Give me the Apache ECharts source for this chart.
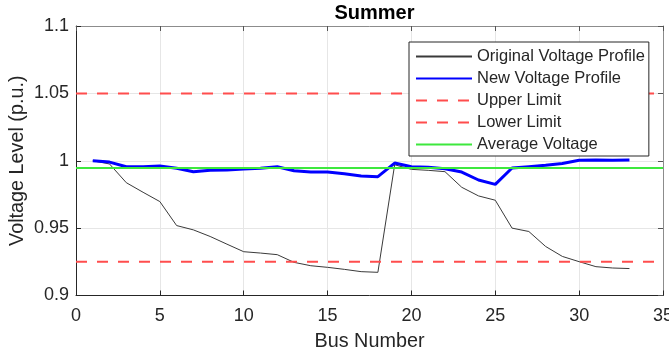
<!DOCTYPE html>
<html>
<head>
<meta charset="utf-8">
<script src="https://cdn.jsdelivr.net/npm/echarts@6/dist/echarts.min.js"></script>
<style>
html,body{margin:0;padding:0;background:#fff;}
#chart{width:669px;height:353px;}
</style>
</head>
<body>
<div id="chart"></div>
<script>
const titleText = 'Summer';
const xAxisName = 'Bus Number';
const yAxisName = 'Voltage Level (p.u.)';
const buses = [1,2,3,4,5,6,7,8,9,10,11,12,13,14,15,16,17,18,19,20,21,22,23,24,25,26,27,28,29,30,31,32,33];
const originalVoltage = [1.000,0.9976,0.9837,0.9766,0.9697,0.9519,0.9487,0.9438,0.9381,0.9325,0.9315,0.9303,0.9246,0.9221,0.9209,0.9194,0.9177,0.9172,0.9970,0.9936,0.9929,0.9919,0.9803,0.9739,0.9707,0.9500,0.9475,0.9364,0.9290,0.9251,0.9214,0.9204,0.9200];
const newVoltage = [1.000,0.9990,0.9956,0.9956,0.9961,0.9944,0.9919,0.9929,0.9931,0.9938,0.9944,0.9956,0.9926,0.9916,0.9916,0.9904,0.9887,0.9882,0.9983,0.9956,0.9951,0.9940,0.9916,0.9857,0.9825,0.9946,0.9956,0.9966,0.9980,1.0003,1.0005,1.0003,1.0005];
const upperLimit = 1.05;
const lowerLimit = 0.925;
const averageVoltage = 0.9946;
const xRange = [0, 35];
const yTickLabels = ['0.9','0.95','1','1.05','1.1'];
const seriesNames = ['Original Voltage Profile','New Voltage Profile','Upper Limit','Lower Limit','Average Voltage'];

const font = 'Liberation Sans, Arial, Helvetica, sans-serif';
const txt = '#262626';
const chart = echarts.init(document.getElementById('chart'), null, {renderer:'canvas'});

function pairs(xs, ys){ return xs.map((x,i)=>[x, ys[i]]); }
function hline(v){ return [[xRange[0], v],[xRange[1], v]]; }

const option = {
  animation: false,
  backgroundColor: '#fff',
  title: {
    text: titleText, left: 369.5, top: -2, textAlign: 'center',
    textStyle: {fontFamily: font, fontSize: 20, fontWeight: 'bold', color: '#000'}
  },
  grid: {left: 76, right: 6, top: 26, bottom: 57.5, containLabel: false, outerBoundsMode: 'none'},
  legend: {
    orient: 'vertical', left: 409, top: 42,
    itemWidth: 56, itemHeight: 14, itemGap: 5,
    padding: [6, 4, 3, 6],
    backgroundColor: '#fff', borderColor: '#262626', borderWidth: 1, borderRadius: 0,
    itemStyle: {opacity: 0},
    textStyle: {fontFamily: font, fontSize: 16.5, color: txt, lineHeight: 16},
    data: seriesNames
  },
  xAxis: [{
    type: 'value', min: xRange[0], max: xRange[1], interval: 5,
    name: xAxisName, nameLocation: 'middle', nameGap: 36,
    nameTextStyle: {fontFamily: font, fontSize: 19.8, color: txt},
    axisLine: {show: true, onZero: false, lineStyle: {color: '#262626', width: 1}},
    axisTick: {show: true, inside: true, length: 5, lineStyle: {color: '#262626'}},
    axisLabel: {fontFamily: font, fontSize: 18, color: txt, margin: 12},
    splitLine: {show: true, lineStyle: {color: '#e6e6e6', width: 1}}
  },{
    type: 'value', position: 'top', min: xRange[0], max: xRange[1], interval: 5,
    axisLine: {show: true, onZero: false, lineStyle: {color: '#8c8c8c', width: 1}},
    axisTick: {show: true, inside: true, length: 5, lineStyle: {color: '#555'}},
    axisLabel: {show: false}, splitLine: {show: false}
  }],
  yAxis: [{
    type: 'value', min: 0.9, max: 1.1, interval: 0.05,
    name: yAxisName, nameLocation: 'middle', nameGap: 48, nameMoveOverlap: false,
    nameTextStyle: {fontFamily: font, fontSize: 19.8, color: txt},
    axisLine: {show: true, onZero: false, lineStyle: {color: '#262626', width: 1}},
    axisTick: {show: true, inside: true, length: 5, lineStyle: {color: '#262626'}},
    axisLabel: {fontFamily: font, fontSize: 18, color: txt, margin: 7,
      formatter: (v) => { const i = Math.round((v - 0.9) / 0.05); return yTickLabels[i] ?? ''; }},
    splitLine: {show: true, lineStyle: {color: '#e6e6e6', width: 1}}
  },{
    type: 'value', position: 'right', min: 0.9, max: 1.1, interval: 0.05,
    axisLine: {show: true, onZero: false, lineStyle: {color: '#8c8c8c', width: 1}},
    axisTick: {show: true, inside: true, length: 5, lineStyle: {color: '#555'}},
    axisLabel: {show: false}, splitLine: {show: false}
  }],
  series: [
    {name: seriesNames[0], type: 'line', data: pairs(buses, originalVoltage), symbol: 'none',
     lineStyle: {color: '#3a3a3a', width: 1}, itemStyle: {color: '#3a3a3a'}},
    {name: seriesNames[1], type: 'line', data: pairs(buses, newVoltage), symbol: 'none',
     lineStyle: {color: '#0000ff', width: 3}, itemStyle: {color: '#0000ff'}},
    {name: seriesNames[2], type: 'line', data: hline(upperLimit), symbol: 'none',
     lineStyle: {color: '#ff4d4d', width: 2, type: [11, 10]}, itemStyle: {color: '#ff4d4d'}},
    {name: seriesNames[3], type: 'line', data: hline(lowerLimit), symbol: 'none',
     lineStyle: {color: '#ff4d4d', width: 2, type: [11, 10]}, itemStyle: {color: '#ff4d4d'}},
    {name: seriesNames[4], type: 'line', data: hline(averageVoltage), symbol: 'none',
     lineStyle: {color: '#3de83d', width: 2}, itemStyle: {color: '#3de83d'}}
  ]
};
chart.setOption(option);
</script>
</body>
</html>
